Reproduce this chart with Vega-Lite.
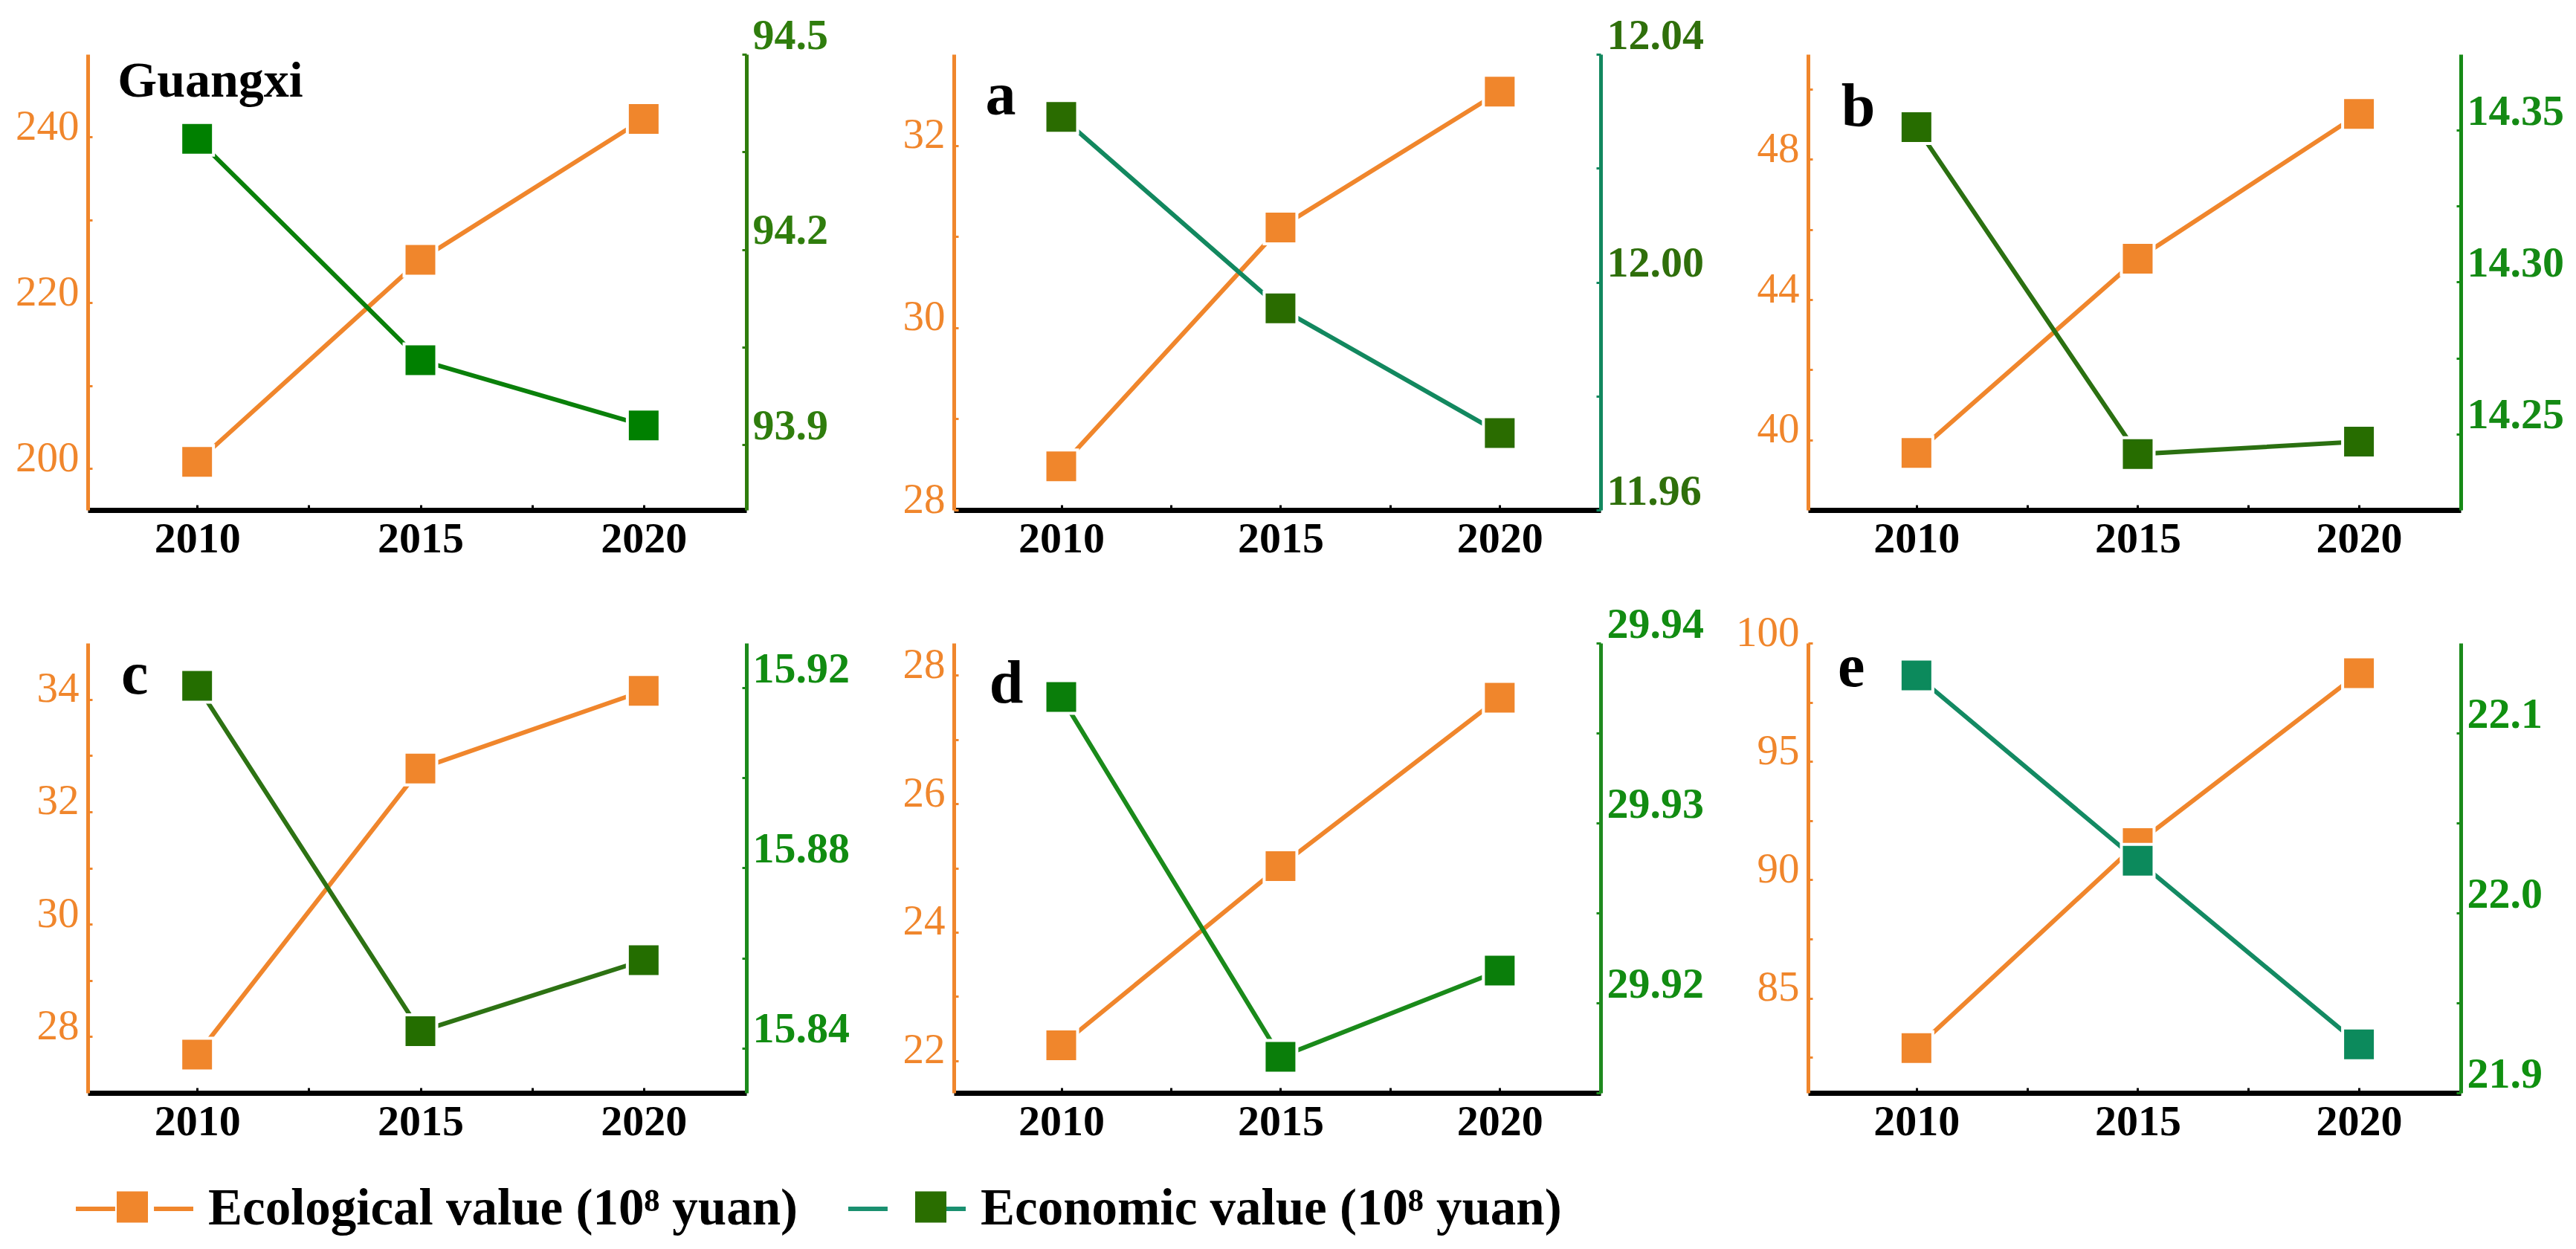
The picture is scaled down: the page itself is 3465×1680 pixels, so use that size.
{
  "$schema": "https://vega.github.io/schema/vega-lite/v6.json",
  "padding": {"left": 20, "top": 19, "right": 5, "bottom": 5},
  "autosize": {"type": "pad"},
  "background": "white",
  "config": {"view": {"stroke": null}, "font": "Liberation Serif"},
  "data": {"values": [
    {"panel": "Guangxi", "year": 2010, "eco": 200.8, "econ": 94.37},
    {"panel": "Guangxi", "year": 2015, "eco": 225.2, "econ": 94.03},
    {"panel": "Guangxi", "year": 2020, "eco": 242.2, "econ": 93.93},
    {"panel": "a", "year": 2010, "eco": 28.48, "econ": 12.029},
    {"panel": "a", "year": 2015, "eco": 31.10, "econ": 11.9954},
    {"panel": "a", "year": 2020, "eco": 32.59, "econ": 11.9735},
    {"panel": "b", "year": 2010, "eco": 39.63, "econ": 14.351},
    {"panel": "b", "year": 2015, "eco": 45.17, "econ": 14.2434},
    {"panel": "b", "year": 2020, "eco": 49.3, "econ": 14.2475},
    {"panel": "c", "year": 2010, "eco": 27.68, "econ": 15.9205},
    {"panel": "c", "year": 2015, "eco": 32.77, "econ": 15.8437},
    {"panel": "c", "year": 2020, "eco": 34.15, "econ": 15.8595},
    {"panel": "d", "year": 2010, "eco": 22.24, "econ": 29.937},
    {"panel": "d", "year": 2015, "eco": 25.03, "econ": 29.917},
    {"panel": "d", "year": 2020, "eco": 27.65, "econ": 29.9218},
    {"panel": "e", "year": 2010, "eco": 82.89, "econ": 22.132},
    {"panel": "e", "year": 2015, "eco": 91.55, "econ": 22.029},
    {"panel": "e", "year": 2020, "eco": 98.73, "econ": 21.927}
  ]},
  "bounds": "flush",
  "columns": 3,
  "spacing": {"row": 179, "column": 279},
  "concat": [
    {
      "width": 886, "height": 613,
      "transform": [{"filter": "datum.panel === 'Guangxi'"}],
      "encoding": {"x": {"field": "year", "type": "quantitative", "scale": {"domain": [2007.55, 2022.3], "nice": false, "zero": false}, "axis": {"title": null, "grid": false, "values": [2010, 2012.5, 2015, 2017.5, 2020], "format": "d", "labelExpr": "datum.value % 5 == 0 ? datum.label : ''", "labelOverlap": false, "labelFlush": false, "domainColor": "black", "domainWidth": 7, "tickColor": "black", "tickSize": -7, "tickWidth": 3, "labelFont": "Liberation Serif", "labelFontWeight": "bold", "labelFontSize": 58, "labelColor": "black", "labelPadding": 17}}},
      "layer": [
        {
          "encoding": {"y": {"field": "eco", "type": "quantitative", "scale": {"domain": [195, 250], "nice": false, "zero": false}, "axis": {"orient": "left", "title": null, "grid": false, "values": [200, 210, 220, 230, 240], "format": "d", "labelExpr": "indexof([200,220,240], datum.value) >= 0 ? datum.label : ''", "labelOverlap": false, "labelFlush": false, "domainColor": "#F0862C", "domainWidth": 5, "tickColor": "#F0862C", "tickSize": -6, "tickWidth": 3, "labelColor": "#F0862C", "labelFont": "Liberation Serif", "labelFontSize": 57, "labelFontWeight": "normal", "labelBaseline": "alphabetic", "labelOffset": 3, "labelPadding": 18}}},
          "layer": [
            {"mark": {"type": "line", "color": "#F0862C", "strokeWidth": 6}},
            {"mark": {"type": "point", "shape": "square", "filled": true, "size": 1936, "fill": "#F0862C", "stroke": "white", "strokeWidth": 4, "opacity": 1}},
            {"transform": [{"filter": "datum.year == 2010"}], "mark": {"type": "text", "text": "Guangxi", "font": "Liberation Serif", "fontWeight": "bold", "fontSize": 68, "align": "left", "baseline": "alphabetic", "color": "black"}, "encoding": {"x": {"datum": 2008.22}, "y": {"datum": 244.9}}}
          ]
        },
        {
          "encoding": {"y": {"field": "econ", "type": "quantitative", "scale": {"domain": [93.8, 94.5], "nice": false, "zero": false}, "axis": {"orient": "right", "title": null, "grid": false, "values": [93.9, 94.05, 94.2, 94.35, 94.5], "format": ".1f", "labelExpr": "indexof([93.9,94.2,94.5], datum.value) >= 0 ? datum.label : ''", "labelOverlap": false, "labelFlush": false, "domainColor": "#2F7D0D", "domainWidth": 5, "tickColor": "#2F7D0D", "tickSize": -6, "tickWidth": 3, "labelColor": "#2F7D0D", "labelFont": "Liberation Serif", "labelFontSize": 58, "labelFontWeight": "bold", "labelBaseline": "alphabetic", "labelOffset": -8, "labelPadding": 14}}},
          "layer": [
            {"mark": {"type": "line", "color": "#0A800A", "strokeWidth": 6}},
            {"mark": {"type": "point", "shape": "square", "filled": true, "size": 1936, "fill": "#008000", "stroke": "white", "strokeWidth": 4, "opacity": 1}}
          ]
        },
        {
          "data": {"values": []},
          "mark": {"type": "point", "filled": false},
          "encoding": {"stroke": {"field": "s", "type": "nominal", "scale": {"domain": ["Ecological value (10⁸ yuan)", "Economic value (10⁸ yuan)"], "range": ["#F0862C", "#1A9070"]}, "legend": {"orient": "none", "legendX": -19, "legendY": 1471, "direction": "horizontal", "columns": 2, "title": null, "symbolType": "M-1,0L-0.33,0M0.33,0L1,0", "symbolSize": 24964, "symbolStrokeWidth": 6, "symbolOpacity": 1, "labelFont": "Liberation Serif", "labelFontWeight": "bold", "labelFontSize": 69, "labelColor": "black", "labelOffset": 17, "labelLimit": 0, "columnPadding": 55, "padding": 0}}}
        },
        {
          "data": {"values": []},
          "mark": {"type": "point", "filled": true},
          "encoding": {"fill": {"field": "t", "type": "nominal", "scale": {"domain": ["sq1", "sq2"], "range": ["#F0862C", "#2A6E00"]}, "legend": {"orient": "none", "legendX": -19, "legendY": 1471, "direction": "horizontal", "columns": 2, "title": null, "symbolType": "M-0.266,-0.266L0.266,-0.266L0.266,0.266L-0.266,0.266Z", "symbolSize": 24964, "symbolStrokeWidth": 0, "symbolOpacity": 1, "labelExpr": "''", "labelFontSize": 1, "labelOffset": 0, "labelLimit": 0, "columnPadding": 916, "padding": 0}}}
        }
      ],
      "resolve": {"scale": {"y": "independent"}}
    },
    {
      "width": 870, "height": 613,
      "transform": [{"filter": "datum.panel === 'a'"}],
      "encoding": {"x": {"field": "year", "type": "quantitative", "scale": {"domain": [2007.55, 2022.3], "nice": false, "zero": false}, "axis": {"title": null, "grid": false, "values": [2010, 2012.5, 2015, 2017.5, 2020], "format": "d", "labelExpr": "datum.value % 5 == 0 ? datum.label : ''", "labelOverlap": false, "labelFlush": false, "domainColor": "black", "domainWidth": 7, "tickColor": "black", "tickSize": -7, "tickWidth": 3, "labelFont": "Liberation Serif", "labelFontWeight": "bold", "labelFontSize": 58, "labelColor": "black", "labelPadding": 17}}},
      "layer": [
        {
          "encoding": {"y": {"field": "eco", "type": "quantitative", "scale": {"domain": [28, 33], "nice": false, "zero": false}, "axis": {"orient": "left", "title": null, "grid": false, "values": [28, 29, 30, 31, 32], "format": "d", "labelExpr": "indexof([28,30,32], datum.value) >= 0 ? datum.label : ''", "labelOverlap": false, "labelFlush": false, "domainColor": "#F0862C", "domainWidth": 5, "tickColor": "#F0862C", "tickSize": -6, "tickWidth": 3, "labelColor": "#F0862C", "labelFont": "Liberation Serif", "labelFontSize": 57, "labelFontWeight": "normal", "labelBaseline": "alphabetic", "labelOffset": 3, "labelPadding": 18}}},
          "layer": [
            {"mark": {"type": "line", "color": "#F0862C", "strokeWidth": 6}},
            {"mark": {"type": "point", "shape": "square", "filled": true, "size": 1936, "fill": "#F0862C", "stroke": "white", "strokeWidth": 4, "opacity": 1}},
            {"transform": [{"filter": "datum.year == 2010"}], "mark": {"type": "text", "text": "a", "font": "Liberation Serif", "fontWeight": "bold", "fontSize": 82, "align": "left", "baseline": "alphabetic", "color": "black"}, "encoding": {"x": {"datum": 2008.27}, "y": {"datum": 32.34}}}
          ]
        },
        {
          "encoding": {"y": {"field": "econ", "type": "quantitative", "scale": {"domain": [11.96, 12.04], "nice": false, "zero": false}, "axis": {"orient": "right", "title": null, "grid": false, "values": [11.96, 11.98, 12.0, 12.02, 12.04], "format": ".2f", "labelExpr": "indexof([11.96,12.0,12.04], datum.value) >= 0 ? datum.label : ''", "labelOverlap": false, "labelFlush": false, "domainColor": "#12885F", "domainWidth": 5, "tickColor": "#12885F", "tickSize": -6, "tickWidth": 3, "labelColor": "#2F6F0B", "labelFont": "Liberation Serif", "labelFontSize": 58, "labelFontWeight": "bold", "labelBaseline": "alphabetic", "labelOffset": -8, "labelPadding": 14}}},
          "layer": [
            {"mark": {"type": "line", "color": "#12885F", "strokeWidth": 6}},
            {"mark": {"type": "point", "shape": "square", "filled": true, "size": 1936, "fill": "#2A6C00", "stroke": "white", "strokeWidth": 4, "opacity": 1}}
          ]
        }
      ],
      "resolve": {"scale": {"y": "independent"}}
    },
    {
      "width": 878, "height": 613,
      "transform": [{"filter": "datum.panel === 'b'"}],
      "encoding": {"x": {"field": "year", "type": "quantitative", "scale": {"domain": [2007.55, 2022.3], "nice": false, "zero": false}, "axis": {"title": null, "grid": false, "values": [2010, 2012.5, 2015, 2017.5, 2020], "format": "d", "labelExpr": "datum.value % 5 == 0 ? datum.label : ''", "labelOverlap": false, "labelFlush": false, "domainColor": "black", "domainWidth": 7, "tickColor": "black", "tickSize": -7, "tickWidth": 3, "labelFont": "Liberation Serif", "labelFontWeight": "bold", "labelFontSize": 58, "labelColor": "black", "labelPadding": 17}}},
      "layer": [
        {
          "encoding": {"y": {"field": "eco", "type": "quantitative", "scale": {"domain": [38, 51], "nice": false, "zero": false}, "axis": {"orient": "left", "title": null, "grid": false, "values": [40, 42, 44, 46, 48, 50], "format": "d", "labelExpr": "indexof([40,44,48], datum.value) >= 0 ? datum.label : ''", "labelOverlap": false, "labelFlush": false, "domainColor": "#F0862C", "domainWidth": 5, "tickColor": "#F0862C", "tickSize": -6, "tickWidth": 3, "labelColor": "#F0862C", "labelFont": "Liberation Serif", "labelFontSize": 57, "labelFontWeight": "normal", "labelBaseline": "alphabetic", "labelOffset": 3, "labelPadding": 18}}},
          "layer": [
            {"mark": {"type": "line", "color": "#F0862C", "strokeWidth": 6}},
            {"mark": {"type": "point", "shape": "square", "filled": true, "size": 1936, "fill": "#F0862C", "stroke": "white", "strokeWidth": 4, "opacity": 1}},
            {"transform": [{"filter": "datum.year == 2010"}], "mark": {"type": "text", "text": "b", "font": "Liberation Serif", "fontWeight": "bold", "fontSize": 82, "align": "left", "baseline": "alphabetic", "color": "black"}, "encoding": {"x": {"datum": 2008.3}, "y": {"datum": 48.96}}}
          ]
        },
        {
          "encoding": {"y": {"field": "econ", "type": "quantitative", "scale": {"domain": [14.225, 14.375], "nice": false, "zero": false}, "axis": {"orient": "right", "title": null, "grid": false, "values": [14.25, 14.275, 14.3, 14.325, 14.35], "format": ".2f", "labelExpr": "indexof([14.25,14.3,14.35], datum.value) >= 0 ? datum.label : ''", "labelOverlap": false, "labelFlush": false, "domainColor": "#168A16", "domainWidth": 5, "tickColor": "#168A16", "tickSize": -6, "tickWidth": 3, "labelColor": "#148A14", "labelFont": "Liberation Serif", "labelFontSize": 58, "labelFontWeight": "bold", "labelBaseline": "alphabetic", "labelOffset": -8, "labelPadding": 14}}},
          "layer": [
            {"mark": {"type": "line", "color": "#2B7011", "strokeWidth": 6}},
            {"mark": {"type": "point", "shape": "square", "filled": true, "size": 1936, "fill": "#276D00", "stroke": "white", "strokeWidth": 4, "opacity": 1}}
          ]
        }
      ],
      "resolve": {"scale": {"y": "independent"}}
    },
    {
      "width": 886, "height": 605,
      "transform": [{"filter": "datum.panel === 'c'"}],
      "encoding": {"x": {"field": "year", "type": "quantitative", "scale": {"domain": [2007.55, 2022.3], "nice": false, "zero": false}, "axis": {"title": null, "grid": false, "values": [2010, 2012.5, 2015, 2017.5, 2020], "format": "d", "labelExpr": "datum.value % 5 == 0 ? datum.label : ''", "labelOverlap": false, "labelFlush": false, "domainColor": "black", "domainWidth": 7, "tickColor": "black", "tickSize": -7, "tickWidth": 3, "labelFont": "Liberation Serif", "labelFontWeight": "bold", "labelFontSize": 58, "labelColor": "black", "labelPadding": 17}}},
      "layer": [
        {
          "encoding": {"y": {"field": "eco", "type": "quantitative", "scale": {"domain": [27, 35], "nice": false, "zero": false}, "axis": {"orient": "left", "title": null, "grid": false, "values": [28, 29, 30, 31, 32, 33, 34], "format": "d", "labelExpr": "indexof([28,30,32,34], datum.value) >= 0 ? datum.label : ''", "labelOverlap": false, "labelFlush": false, "domainColor": "#F0862C", "domainWidth": 5, "tickColor": "#F0862C", "tickSize": -6, "tickWidth": 3, "labelColor": "#F0862C", "labelFont": "Liberation Serif", "labelFontSize": 57, "labelFontWeight": "normal", "labelBaseline": "alphabetic", "labelOffset": 3, "labelPadding": 18}}},
          "layer": [
            {"mark": {"type": "line", "color": "#F0862C", "strokeWidth": 6}},
            {"mark": {"type": "point", "shape": "square", "filled": true, "size": 1936, "fill": "#F0862C", "stroke": "white", "strokeWidth": 4, "opacity": 1}},
            {"transform": [{"filter": "datum.year == 2010"}], "mark": {"type": "text", "text": "c", "font": "Liberation Serif", "fontWeight": "bold", "fontSize": 82, "align": "left", "baseline": "alphabetic", "color": "black"}, "encoding": {"x": {"datum": 2008.3}, "y": {"datum": 34.1}}}
          ]
        },
        {
          "encoding": {"y": {"field": "econ", "type": "quantitative", "scale": {"domain": [15.83, 15.93], "nice": false, "zero": false}, "axis": {"orient": "right", "title": null, "grid": false, "values": [15.84, 15.86, 15.88, 15.9, 15.92], "format": ".2f", "labelExpr": "indexof([15.84,15.88,15.92], datum.value) >= 0 ? datum.label : ''", "labelOverlap": false, "labelFlush": false, "domainColor": "#1B8A1B", "domainWidth": 5, "tickColor": "#1B8A1B", "tickSize": -6, "tickWidth": 3, "labelColor": "#118C11", "labelFont": "Liberation Serif", "labelFontSize": 58, "labelFontWeight": "bold", "labelBaseline": "alphabetic", "labelOffset": -8, "labelPadding": 14}}},
          "layer": [
            {"mark": {"type": "line", "color": "#2D7213", "strokeWidth": 6}},
            {"mark": {"type": "point", "shape": "square", "filled": true, "size": 1936, "fill": "#246E00", "stroke": "white", "strokeWidth": 4, "opacity": 1}}
          ]
        }
      ],
      "resolve": {"scale": {"y": "independent"}}
    },
    {
      "width": 870, "height": 605,
      "transform": [{"filter": "datum.panel === 'd'"}],
      "encoding": {"x": {"field": "year", "type": "quantitative", "scale": {"domain": [2007.55, 2022.3], "nice": false, "zero": false}, "axis": {"title": null, "grid": false, "values": [2010, 2012.5, 2015, 2017.5, 2020], "format": "d", "labelExpr": "datum.value % 5 == 0 ? datum.label : ''", "labelOverlap": false, "labelFlush": false, "domainColor": "black", "domainWidth": 7, "tickColor": "black", "tickSize": -7, "tickWidth": 3, "labelFont": "Liberation Serif", "labelFontWeight": "bold", "labelFontSize": 58, "labelColor": "black", "labelPadding": 17}}},
      "layer": [
        {
          "encoding": {"y": {"field": "eco", "type": "quantitative", "scale": {"domain": [21.5, 28.5], "nice": false, "zero": false}, "axis": {"orient": "left", "title": null, "grid": false, "values": [22, 23, 24, 25, 26, 27, 28], "format": "d", "labelExpr": "indexof([22,24,26,28], datum.value) >= 0 ? datum.label : ''", "labelOverlap": false, "labelFlush": false, "domainColor": "#F0862C", "domainWidth": 5, "tickColor": "#F0862C", "tickSize": -6, "tickWidth": 3, "labelColor": "#F0862C", "labelFont": "Liberation Serif", "labelFontSize": 57, "labelFontWeight": "normal", "labelBaseline": "alphabetic", "labelOffset": 3, "labelPadding": 18}}},
          "layer": [
            {"mark": {"type": "line", "color": "#F0862C", "strokeWidth": 6}},
            {"mark": {"type": "point", "shape": "square", "filled": true, "size": 1936, "fill": "#F0862C", "stroke": "white", "strokeWidth": 4, "opacity": 1}},
            {"transform": [{"filter": "datum.year == 2010"}], "mark": {"type": "text", "text": "d", "font": "Liberation Serif", "fontWeight": "bold", "fontSize": 82, "align": "left", "baseline": "alphabetic", "color": "black"}, "encoding": {"x": {"datum": 2008.36}, "y": {"datum": 27.58}}}
          ]
        },
        {
          "encoding": {"y": {"field": "econ", "type": "quantitative", "scale": {"domain": [29.915, 29.94], "nice": false, "zero": false}, "axis": {"orient": "right", "title": null, "grid": false, "values": [29.915, 29.92, 29.925, 29.93, 29.935, 29.94], "format": ".2f", "labelExpr": "indexof([29.92,29.93,29.94], datum.value) >= 0 ? datum.label : ''", "labelOverlap": false, "labelFlush": false, "domainColor": "#1E8A1E", "domainWidth": 5, "tickColor": "#1E8A1E", "tickSize": -6, "tickWidth": 3, "labelColor": "#128C12", "labelFont": "Liberation Serif", "labelFontSize": 58, "labelFontWeight": "bold", "labelBaseline": "alphabetic", "labelOffset": -8, "labelPadding": 14}}},
          "layer": [
            {"mark": {"type": "line", "color": "#1A8A1A", "strokeWidth": 6}},
            {"mark": {"type": "point", "shape": "square", "filled": true, "size": 1936, "fill": "#0A7E0A", "stroke": "white", "strokeWidth": 4, "opacity": 1}}
          ]
        }
      ],
      "resolve": {"scale": {"y": "independent"}}
    },
    {
      "width": 878, "height": 605,
      "transform": [{"filter": "datum.panel === 'e'"}],
      "encoding": {"x": {"field": "year", "type": "quantitative", "scale": {"domain": [2007.55, 2022.3], "nice": false, "zero": false}, "axis": {"title": null, "grid": false, "values": [2010, 2012.5, 2015, 2017.5, 2020], "format": "d", "labelExpr": "datum.value % 5 == 0 ? datum.label : ''", "labelOverlap": false, "labelFlush": false, "domainColor": "black", "domainWidth": 7, "tickColor": "black", "tickSize": -7, "tickWidth": 3, "labelFont": "Liberation Serif", "labelFontWeight": "bold", "labelFontSize": 58, "labelColor": "black", "labelPadding": 17}}},
      "layer": [
        {
          "encoding": {"y": {"field": "eco", "type": "quantitative", "scale": {"domain": [81, 100], "nice": false, "zero": false}, "axis": {"orient": "left", "title": null, "grid": false, "values": [82.5, 85, 87.5, 90, 92.5, 95, 97.5, 100], "format": "d", "labelExpr": "indexof([85,90,95,100], datum.value) >= 0 ? datum.label : ''", "labelOverlap": false, "labelFlush": false, "domainColor": "#F0862C", "domainWidth": 5, "tickColor": "#F0862C", "tickSize": -6, "tickWidth": 3, "labelColor": "#F0862C", "labelFont": "Liberation Serif", "labelFontSize": 57, "labelFontWeight": "normal", "labelBaseline": "alphabetic", "labelOffset": 3, "labelPadding": 18}}},
          "layer": [
            {"mark": {"type": "line", "color": "#F0862C", "strokeWidth": 6}},
            {"mark": {"type": "point", "shape": "square", "filled": true, "size": 1936, "fill": "#F0862C", "stroke": "white", "strokeWidth": 4, "opacity": 1}},
            {"transform": [{"filter": "datum.year == 2010"}], "mark": {"type": "text", "text": "e", "font": "Liberation Serif", "fontWeight": "bold", "fontSize": 82, "align": "left", "baseline": "alphabetic", "color": "black"}, "encoding": {"x": {"datum": 2008.22}, "y": {"datum": 98.18}}}
          ]
        },
        {
          "encoding": {"y": {"field": "econ", "type": "quantitative", "scale": {"domain": [21.9, 22.15], "nice": false, "zero": false}, "axis": {"orient": "right", "title": null, "grid": false, "values": [21.9, 21.95, 22.0, 22.05, 22.1], "format": ".1f", "labelExpr": "indexof([21.9,22.0,22.1], datum.value) >= 0 ? datum.label : ''", "labelOverlap": false, "labelFlush": false, "domainColor": "#1A8A1A", "domainWidth": 5, "tickColor": "#1A8A1A", "tickSize": -6, "tickWidth": 3, "labelColor": "#109010", "labelFont": "Liberation Serif", "labelFontSize": 58, "labelFontWeight": "bold", "labelBaseline": "alphabetic", "labelOffset": -8, "labelPadding": 14}}},
          "layer": [
            {"mark": {"type": "line", "color": "#138A63", "strokeWidth": 6}},
            {"mark": {"type": "point", "shape": "square", "filled": true, "size": 1936, "fill": "#0C8A5C", "stroke": "white", "strokeWidth": 4, "opacity": 1}}
          ]
        }
      ],
      "resolve": {"scale": {"y": "independent"}}
    }
  ]
}
